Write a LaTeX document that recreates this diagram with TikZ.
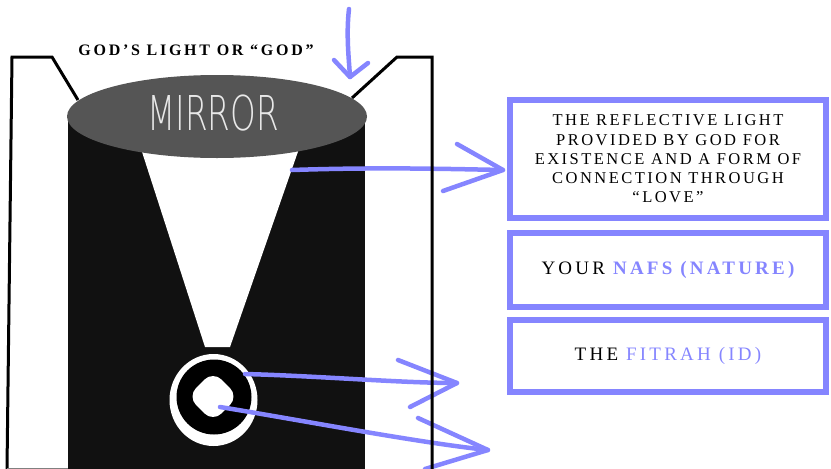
\documentclass[tikz,border=0pt]{standalone}
\usepackage{fontspec}
\setmainfont{Liberation Serif}
\newfontfamily\mirrorfont{DejaVuSans-ExtraLight}[Extension=.ttf]
\usetikzlibrary{shapes.geometric}
\definecolor{lav}{RGB}{133,133,255}
\definecolor{mirrorgray}{RGB}{85,85,85}
\definecolor{bodyblack}{RGB}{17,17,17}
\definecolor{chalk}{RGB}{232,232,232}
\tikzset{
  outline/.style={draw=black, line width=3pt, line join=miter},
  pen/.style={draw=lav, line width=4.5pt, line cap=round, line join=round},
  bluebox/.style={draw=lav, line width=5.5pt, minimum width=316pt, inner sep=0pt, align=center, text=black},
  boxtext/.style={font=\fontsize{16.5}{19.3}\selectfont\addfontfeatures{LetterSpace=15}},
  bigtext/.style={font=\fontsize{19}{22}\selectfont\addfontfeatures{LetterSpace=17}},
}
\begin{document}
\begin{tikzpicture}[x=1pt,y=-1pt]
\useasboundingbox (0,0) rectangle (831,469);
% body
\fill[bodyblack] (68,117) rectangle (365,469);
\fill[white] (131.7,120) -- (309,120) -- (230,347) -- (205,347) -- cycle;
% medallion
\fill[white] (213.5,400) ellipse (44 and 46);
\fill[black] (214,397) circle (37.5);
\node[fill=white, rounded corners=12pt, minimum size=36pt, rotate=45, inner sep=0pt] (core) at (213,396.5) {};
% arrows
\coordinate (a1s) at (292,170);
\coordinate (a1t) at (503,170);
\draw[pen] (a1s) .. controls (380,167) and (450,169) .. (a1t);
\draw[pen] (457,144) -- (a1t) -- (443,191);
\coordinate (dns) at (349,9);
\coordinate (dnt) at (350,77);
\draw[pen] (dns) .. controls (346,35) and (349,60) .. (dnt);
\draw[pen] (334,60) -- (dnt) -- (368,63);
\coordinate (b1s) at (245,374);
\coordinate (b1t) at (457,383);
\draw[pen] (b1s) .. controls (320,376) and (400,383) .. (b1t);
\draw[pen] (398,360) -- (b1t) -- (410,407);
\coordinate (b2s) at (220,407);
\coordinate (b2t) at (488,450);
\draw[pen] (b2s) .. controls (300,420) and (420,443) .. (b2t);
\draw[pen] (418,418) -- (b2t) -- (425,469);
% outline
\draw[outline] (78,100) -- (52,57) -- (12,57) -- (7,469);
\draw[outline] (352,98) -- (397,57) -- (432,57) -- (432,469);
\draw[gray, line width=1pt] (7,468.5) -- (68,468.5);
% mirror
\node[ellipse, fill=mirrorgray, minimum width=300pt, minimum height=83pt, inner sep=0pt] (mirror) at (217,116.5) {};
\node[text=chalk, font=\mirrorfont\fontsize{48}{50}\selectfont] (mirrorlabel) at (213,113) {\scalebox{0.68}[1]{MIRROR}};
% title
\node[font=\bfseries\fontsize{16}{18}\selectfont\addfontfeatures{LetterSpace=17}] (title) at (196,50) {GOD’S LIGHT OR “GOD”};
% boxes
\node[bluebox, minimum height=118pt, boxtext] (reflect) at (668,159) {THE REFLECTIVE LIGHT\\PROVIDED BY GOD FOR\\EXISTENCE AND A FORM OF\\CONNECTION THROUGH\\“LOVE”};
\node[bluebox, minimum height=74pt, bigtext] (nafs) at (668,270) {YOUR {\bfseries\color{lav}NAFS (NATURE)}};
\node[bluebox, minimum height=72pt, bigtext] (fitrah) at (668,356) {THE {\color{lav}FITRAH (ID)}};
\end{tikzpicture}
\end{document}
